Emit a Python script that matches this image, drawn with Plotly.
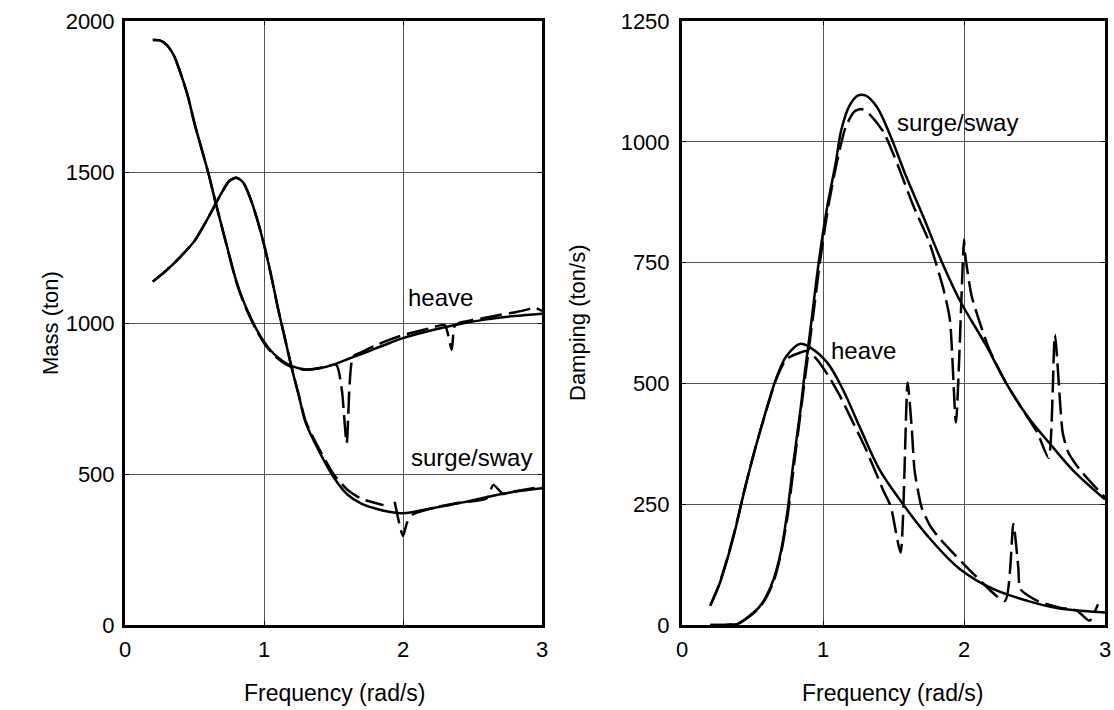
import plotly.graph_objects as go

# ---------------- Left panel: added mass ----------------
heave_mass_f = [0.20, 0.25, 0.30, 0.35, 0.40, 0.45, 0.50, 0.55, 0.60, 0.65, 0.70, 0.75, 0.80, 0.85,
                0.90, 0.95, 1.00, 1.05, 1.10, 1.15, 1.20, 1.30, 1.40, 1.50, 1.60, 1.70, 1.80, 1.90,
                2.00, 2.20, 2.40, 2.60, 2.80, 3.00]
heave_mass = [1937, 1936, 1921, 1887, 1827, 1755, 1661, 1578, 1496, 1402, 1313, 1225, 1140, 1075,
              1022, 976, 938, 908, 886, 869, 857, 846, 850, 862, 880, 897, 915, 933,
              950, 975, 996, 1012, 1023, 1031]

heave_mass_d_f = [0.20, 0.25, 0.30, 0.35, 0.40, 0.45, 0.50, 0.55, 0.60, 0.65, 0.70, 0.75, 0.80, 0.85,
                  0.90, 0.95, 1.00, 1.05, 1.10, 1.15, 1.20, 1.30, 1.40, 1.52, 1.56, 1.595, 1.64, 1.70,
                  1.80, 1.90, 2.00, 2.10, 2.20, 2.30, 2.35, 2.37, 2.40, 2.50, 2.60, 2.70, 2.80, 2.90,
                  2.94, 3.00]
heave_mass_d = [1937, 1936, 1921, 1887, 1827, 1755, 1661, 1578, 1496, 1402, 1313, 1223, 1137, 1071,
                1018, 972, 934, 904, 882, 865, 854, 845, 851, 861, 778, 602, 889, 903,
                925, 944, 960, 972, 983, 993, 911, 988, 1000, 1010, 1018, 1027, 1035, 1045,
                1052, 1040]

surge_mass_f = [0.20, 0.30, 0.40, 0.50, 0.60, 0.70, 0.75, 0.80, 0.85, 0.90, 0.95, 1.00, 1.05, 1.10,
                1.15, 1.20, 1.25, 1.30, 1.40, 1.50, 1.60, 1.70, 1.80, 1.90, 2.00, 2.20, 2.40, 2.60,
                2.80, 3.00]
surge_mass = [1137, 1175, 1220, 1272, 1350, 1435, 1470, 1481, 1465, 1415, 1345, 1260, 1160, 1050,
              950, 850, 760, 670, 572, 490, 432, 402, 386, 375, 370, 386, 403, 423, 441, 453]

surge_mass_d_f = [0.20, 0.30, 0.40, 0.50, 0.60, 0.70, 0.75, 0.80, 0.85, 0.90, 0.95, 1.00, 1.05, 1.10,
                  1.15, 1.20, 1.25, 1.30, 1.40, 1.50, 1.60, 1.70, 1.80, 1.86, None, 1.94, 2.00, 2.03,
                  2.07, 2.20, 2.40, 2.60, 2.65, 2.72, 2.80, 3.00]
surge_mass_d = [1137, 1175, 1220, 1272, 1350, 1435, 1470, 1481, 1465, 1415, 1345, 1260, 1160, 1050,
                950, 850, 762, 674, 580, 500, 448, 418, 404, 397, None, 408, 295, 340,
                366, 386, 405, 419, 464, 434, 442, 458]

# ---------------- Right panel: damping ----------------
surge_damp_f = [0.20, 0.30, 0.36, 0.40, 0.48, 0.55, 0.60, 0.65, 0.70, 0.75, 0.79, 0.84, 0.87, 0.91,
                0.97, 1.03, 1.09, 1.13, 1.19, 1.25, 1.30, 1.38, 1.48, 1.59, 1.71, 1.83, 1.97, 2.16,
                2.30, 2.45, 2.63, 2.78, 3.00]
surge_damp = [0, 0, 1, 3, 19, 38, 61, 95, 150, 240, 336, 445, 520, 610,
              751, 866, 956, 1025, 1076, 1096, 1096, 1073, 1011, 928, 846, 760, 672, 577,
              500, 432, 368, 318, 260]

surge_damp_d_f = [0.20, 0.30, 0.36, 0.40, 0.48, 0.55, 0.60, 0.65, 0.70, 0.75, 0.80, 0.85, 0.89, 0.93,
                  0.98, 1.04, 1.10, 1.16, 1.22, 1.27, 1.32, 1.43, 1.53, 1.64, 1.75, 1.85, 1.90, 1.943,
                  2.00, 2.007, 2.055, 2.18, 2.30, 2.40, 2.52, 2.60, 2.645, 2.70, 2.74, 2.82, 3.00]
surge_damp_d = [0, 0, 1, 3, 18, 36, 58, 90, 145, 228, 345, 460, 550, 640,
                755, 870, 960, 1030, 1062, 1068, 1060, 1020, 952, 868, 795, 700, 632, 419,
                798, 770, 680, 570, 500, 453, 398, 346, 601, 398, 357, 322, 264]

heave_damp_f = [0.20, 0.26, 0.32, 0.38, 0.44, 0.51, 0.60, 0.67, 0.74, 0.84, 0.91, 1.03, 1.14, 1.26,
                1.40, 1.56, 1.74, 1.97, 2.21, 2.45, 2.68, 3.00]
heave_damp = [40, 80, 135, 200, 275, 355, 448, 512, 556, 582, 574, 543, 488, 410,
              322, 253, 185, 116, 74, 50, 34, 26]

heave_damp_d_f = [0.20, 0.26, 0.32, 0.38, 0.44, 0.51, 0.60, 0.67, 0.74, 0.84, 0.88, 0.95, 1.04, 1.12,
                  1.26, 1.31, 1.43, 1.48, 1.55, 1.60, 1.63, 1.65, 1.70, 1.76, 1.83, 2.08, 2.29, 2.35,
                  2.385, 2.40, 2.52, 2.68, 2.80, 2.89, 2.95]
heave_damp_d = [40, 82, 137, 202, 276, 356, 446, 510, 550, 564, 567, 552, 515, 474,
                391, 360, 277, 246, 150, 502, 405, 319, 243, 205, 178, 102, 50, 209,
                119, 74, 50, 36, 30, 9, 43]

x_ticks = [0, 1, 2, 3]
mass_ticks = [0, 500, 1000, 1500, 2000]
damp_ticks = [0, 250, 500, 750, 1000, 1250]

W, H = 1114, 710
FONT = "Liberation Sans, Arial, Helvetica, sans-serif"
LW = 2.5
DASH = "22px,7px"

fig = go.Figure()

def add(x, y, xa, ya, dashed):
    fig.add_trace(go.Scatter(
        x=x, y=y, mode="lines", xaxis=xa, yaxis=ya, showlegend=False,
        connectgaps=False,
        line=dict(color="black", width=LW, dash=DASH if dashed else "solid",
                  shape="spline", smoothing=0.6 if dashed else 1.0),
        hoverinfo="skip"))

add(heave_mass_f, heave_mass, "x", "y", False)
add(heave_mass_d_f, heave_mass_d, "x", "y", True)
add(surge_mass_f, surge_mass, "x", "y", False)
add(surge_mass_d_f, surge_mass_d, "x", "y", True)
add(surge_damp_f, surge_damp, "x2", "y2", False)
add(surge_damp_d_f, surge_damp_d, "x2", "y2", True)
add(heave_damp_f, heave_damp, "x2", "y2", False)
add(heave_damp_d_f, heave_damp_d, "x2", "y2", True)

axis_common = dict(
    showline=True, linecolor="black", linewidth=3, mirror="ticks",
    ticks="inside", ticklen=4, tickcolor="black", tickwidth=1,
    showgrid=True, gridcolor="#555555", gridwidth=1, zeroline=False,
    tickfont=dict(family=FONT, size=22, color="black"), automargin=False,
)

y_bot, y_top = 1 - 625 / H, 1 - 21 / H
fig.update_layout(
    width=W, height=H, margin=dict(l=0, r=0, t=0, b=0),
    paper_bgcolor="white", plot_bgcolor="white",
    xaxis=dict(domain=[125 / W, 542 / W], range=[0, 3], tickvals=x_ticks, anchor="y",
               ticklabelstandoff=3, **axis_common),
    yaxis=dict(domain=[y_bot, y_top], range=[0, 2000], tickvals=mass_ticks, anchor="x",
               ticklabelstandoff=3, **axis_common),
    xaxis2=dict(domain=[682 / W, 1105 / W], range=[0, 3], tickvals=x_ticks, anchor="y2",
                ticklabelstandoff=3, **axis_common),
    yaxis2=dict(domain=[y_bot, y_top], range=[0, 1250], tickvals=damp_ticks, anchor="x2",
                ticklabelstandoff=5, **axis_common),
)

def txt(x, y, s, xref="paper", yref="paper", angle=0, xanchor="center", size=23):
    fig.add_annotation(x=x, y=y, xref=xref, yref=yref, text=s, showarrow=False,
                       textangle=angle, xanchor=xanchor, yanchor="middle",
                       font=dict(family=FONT, size=size, color="black"))

txt(335 / W, 1 - 693 / H, "Frequency (rad/s)")
txt(893 / W, 1 - 693 / H, "Frequency (rad/s)")
txt(50 / W, 1 - 323 / H, "Mass (ton)", angle=-90, size=22)
txt(577 / W, 1 - 323 / H, "Damping (ton/s)", angle=-90, size=22)

txt(2.02, 1086, "heave", xref="x", yref="y", xanchor="left", size=24)
txt(2.04, 553, "surge/sway", xref="x", yref="y", xanchor="left", size=24)
txt(1.51, 1039, "surge/sway", xref="x2", yref="y2", xanchor="left", size=24)
txt(1.04, 568, "heave", xref="x2", yref="y2", xanchor="left", size=24)

fig.write_html("out.html")
